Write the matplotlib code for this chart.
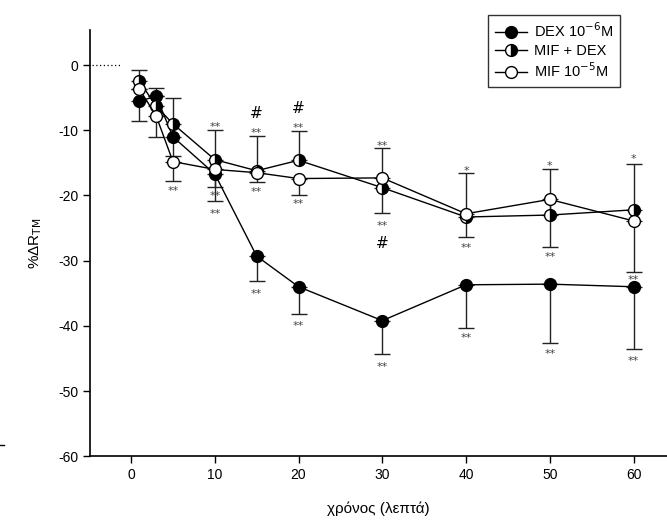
import matplotlib
matplotlib.use("Agg")
import matplotlib.pyplot as plt
from matplotlib.lines import Line2D
from matplotlib.legend_handler import HandlerLine2D

plt.rcParams['font.family'] = ['Liberation Sans', 'DejaVu Sans']
plt.rcParams['axes.unicode_minus'] = False

# time points (min)
t = [1, 3, 5, 10, 15, 20, 30, 40, 50, 60]

# % change in R_TM
dex = [-5.5, -4.8, -11.0, -16.7, -29.3, -34.0, -39.2, -33.7, -33.6, -34.0]
mif_dex = [-2.5, -6.3, -9.0, -14.5, -16.2, -14.6, -18.8, -23.3, -23.0, -22.2]
mif = [-3.7, -7.8, -14.8, -16.0, -16.5, -17.4, -17.3, -22.8, -20.6, -23.9]

# one-sided error bars
dex_lo = [3.1, 0.0, 3.0, 4.2, 3.8, 4.2, 5.1, 6.6, 9.1, 9.6]
mif_dex_hi = [1.7, 2.8, 3.9, 4.5, 5.3, 4.5, 6.1, 6.8, 7.0, 7.0]
mif_lo = [0.0, 3.2, 3.0, 2.7, 1.5, 2.5, 5.4, 3.6, 7.3, 7.8]

# significance marks (x, y, text)
marks_x = [5, 10, 10, 10, 15, 15, 15, 15, 20, 20, 20, 20,
           30, 30, 30, 30, 40, 40, 40, 50, 50, 50, 60, 60, 60]
marks_y = [-18.7, -8.9, -19.5, -22.2, -7.4, -9.8, -18.9, -34.5, -6.7, -9.0, -20.7, -39.4,
           -11.8, -24.1, -27.3, -45.7, -15.6, -27.5, -41.3, -14.9, -28.8, -43.7, -13.8, -32.4, -44.8]
marks_s = ['**', '**', '**', '**', '#', '**', '**', '**', '#', '**', '**', '**',
           '**', '**', '#', '**', '*', '**', '**', '*', '**', '**', '*', '**', '**']


class LeftMarker(HandlerLine2D):
    # SigmaPlot style legend: symbol at the left, line running to the right
    def get_xdata(self, legend, xdescent, ydescent, width, height, fontsize):
        xdata = [-xdescent, -xdescent + width]
        return xdata, [-xdescent + 0.2 * width]


fig = plt.figure(figsize=(6.67, 5.25), dpi=100)
ax = fig.add_axes([0.135, 0.131, 0.865, 0.812])

ekw = dict(ecolor='#222222', elinewidth=1.0, capsize=6, capthick=1.0, zorder=1)
ax.errorbar(t, dex, yerr=[dex_lo, [0] * len(t)], fmt='none', **ekw)
ax.errorbar(t, mif_dex, yerr=[[0] * len(t), mif_dex_hi], fmt='none', **ekw)
ax.errorbar(t, mif, yerr=[mif_lo, [0] * len(t)], fmt='none', **ekw)

ax.plot(t, dex, '-o', color='black', lw=1.0, ms=8.5, mfc='black', mec='black',
        label='DEX 10$^{-6}$M', zorder=3)
ax.plot(t, mif_dex, '-o', color='black', lw=1.0, ms=8.5, fillstyle='right',
        mfc='black', mfcalt='white', mec='black', label='MIF + DEX', zorder=3)
ax.plot(t, mif, '-o', color='black', lw=1.0, ms=8.5, mfc='white', mec='black',
        label='MIF 10$^{-5}$M', zorder=3)

# baseline dotted line
ax.plot([-4.7, -1.1], [0, 0], color='black', lw=0.9, ls=(0, (1, 2)))

for x, y, s in zip(marks_x, marks_y, marks_s):
    if s == '#':
        ax.text(x, y, s, ha='center', va='center', fontsize=11, family='DejaVu Sans')
    else:
        ax.text(x, y - 0.6, s, ha='center', va='center', fontsize=8, color='#444444',
                family='DejaVu Sans')

ax.set_xlim(-4.9, 64)
ax.set_ylim(-60, 5.4)
ax.set_xticks([0, 10, 20, 30, 40, 50, 60])
ax.set_yticks([0, -10, -20, -30, -40, -50, -60])
ax.tick_params(direction='out', length=5, width=1, labelsize=10, colors='black')
ax.spines['top'].set_visible(False)
ax.spines['right'].set_visible(False)
ax.spines['left'].set_linewidth(1.2)
ax.spines['bottom'].set_linewidth(1.2)

ax.set_ylabel('%ΔR$_{\\mathrm{TM}}$', fontsize=11, labelpad=10)
ax.set_xlabel('χρόνος (λεπτά)', fontsize=11, labelpad=14)

leg = ax.legend(loc='upper right', bbox_to_anchor=(620 / 667, 1 - 15 / 525),
                bbox_transform=fig.transFigure, fontsize=10.5,
                frameon=True, fancybox=False, edgecolor='black', handlelength=2.2,
                borderpad=0.45, labelspacing=0.25, handletextpad=0.5, borderaxespad=0,
                handler_map={Line2D: LeftMarker()})
leg.get_frame().set_linewidth(1.0)

# small stray dash at left edge
fig.add_artist(Line2D([0.0, 0.006], [1 - 445 / 525, 1 - 445 / 525], color='black', lw=1))

fig.savefig('out.png', dpi=100)
